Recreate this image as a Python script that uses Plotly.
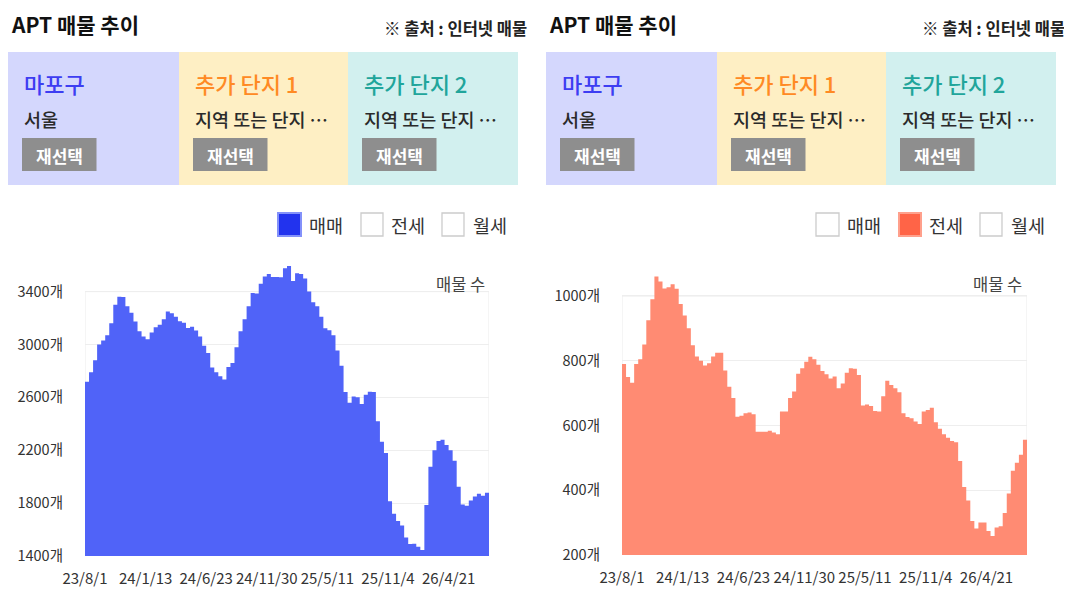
import plotly.graph_objects as go

# The page body adds an 8px margin, so the figure is 8px smaller on each
# axis and every pixel position below is shifted by that margin.
PAGE_W, PAGE_H = 1072, 597
MARGIN = 8
W, H = PAGE_W - MARGIN, PAGE_H - MARGIN


def px(x):
    return (x - MARGIN) / W


def py(y):
    return 1 - (y - MARGIN) / H


FONT = "Noto Sans CJK KR"

# ---------------- data ----------------
date_labels = ["23/8/1", "24/1/13", "24/6/23", "24/11/30", "25/5/11", "25/11/4", "26/4/21"]
tick_index = [0, 15, 30, 45, 60, 75, 90]

sale_counts = [
    2719, 2790, 2880, 3000, 3030, 3070, 3160, 3300, 3362, 3360,
    3290, 3240, 3173, 3100, 3060, 3040, 3090, 3130, 3150, 3190,
    3250, 3236, 3210, 3175, 3165, 3125, 3135, 3105, 3060, 2990,
    2935, 2825, 2790, 2760, 2735, 2830, 2860, 2980, 3100, 3190,
    3290, 3390, 3385, 3460, 3515, 3533, 3510, 3510, 3508, 3577,
    3594, 3480, 3539, 3533, 3500, 3400, 3320, 3290, 3210, 3123,
    3108, 3070, 2955, 2840, 2640, 2560, 2606, 2600, 2550, 2620,
    2643, 2640, 2420, 2265, 2180, 1815, 1720, 1665, 1630, 1540,
    1490, 1492, 1470, 1445, 1786, 2076, 2200, 2270, 2280, 2240,
    2200, 2120, 1924, 1790, 1780, 1820, 1850, 1870, 1855, 1879,
    1899,
]

jeonse_counts = [
    790, 750, 732, 790, 805, 850, 925, 990, 1060, 1045,
    1023, 1027, 1036, 1022, 975, 940, 900, 848, 813, 800,
    785, 792, 813, 825, 825, 770, 720, 685, 627, 630,
    638, 640, 635, 581, 581, 581, 584, 578, 573, 643,
    643, 685, 705, 760, 777, 797, 812, 805, 788, 768,
    758, 745, 751, 715, 730, 763, 777, 775, 756, 662,
    665, 660, 645, 643, 690, 738, 725, 715, 703, 638,
    626, 622, 612, 605, 643, 648, 655, 610, 590, 573,
    562, 552, 548, 490, 410, 368, 305, 282, 300, 300,
    274, 259, 285, 289, 330, 390, 460, 485, 510, 556,
    584,
]

sale_ticks = [1400, 1800, 2200, 2600, 3000, 3400]
jeonse_ticks = [200, 400, 600, 800, 1000]

region_titles = ["마포구", "추가 단지 1", "추가 단지 2"]
region_subs = ["서울", "지역 또는 단지 …", "지역 또는 단지 …"]
legend_labels = ["매매", "전세", "월세"]

# ---------------- styles ----------------
SALE_COLOR = "#5063F8"
JEONSE_COLOR = "#FF8B73"
BOX_COLORS = ["#D4D7FD", "#FEEFC4", "#D2F0EF"]
TITLE_COLORS = ["#3D3DF2", "#FF8A24", "#21A59B"]
BOX_X = [(8, 179), (179, 348), (348, 518)]
CHECK_X = [(278, 301), (361, 383), (442, 464)]
LABEL_X = [307, 389, 471]
CHECK_FILL = [("#2233EE", "#8391FA"), ("#FF6447", "#FFA08C")]

fig = go.Figure()

n = len(sale_counts)
fig.add_trace(go.Scatter(
    x=list(range(n)), y=sale_counts, mode="lines",
    line=dict(shape="hv", width=0, color=SALE_COLOR),
    fill="tozeroy", fillcolor=SALE_COLOR,
    xaxis="x", yaxis="y", hoverinfo="skip", showlegend=False,
))
m = len(jeonse_counts)
fig.add_trace(go.Scatter(
    x=list(range(m)), y=jeonse_counts, mode="lines",
    line=dict(shape="hv", width=0, color=JEONSE_COLOR),
    fill="tozeroy", fillcolor=JEONSE_COLOR,
    xaxis="x2", yaxis="y2", hoverinfo="skip", showlegend=False,
))

xtickfont = dict(family=FONT, size=15, color="#333333")
ytickfont = dict(family=FONT, size=14.5, color="#333333")

xcommon = dict(range=[0, n - 1], tickvals=tick_index, ticktext=date_labels,
               showgrid=False, zeroline=False, showline=False, ticks="",
               tickfont=xtickfont, ticklabelstandoff=12, fixedrange=True,
               automargin=False)
ycommon = dict(showgrid=True, gridcolor="#EEEEEE", gridwidth=1, zeroline=False,
               showline=False, ticks="", tickfont=ytickfont,
               ticklabelstandoff=21, fixedrange=True, automargin=False)

fig.update_layout(
    template="none",
    width=W, height=H, autosize=False,
    margin=dict(l=0, r=0, t=0, b=0, pad=0, autoexpand=False),
    paper_bgcolor="white", plot_bgcolor="white",
    font=dict(family=FONT, color="#333333"),
    showlegend=False,
    xaxis=dict(domain=[px(85), px(489)], anchor="y", **xcommon),
    yaxis=dict(domain=[py(556), py(262)], anchor="x", range=[1400, 3624],
               tickvals=sale_ticks, ticktext=[f"{v}개" for v in sale_ticks], **ycommon),
    xaxis2=dict(domain=[px(622), px(1027)], anchor="y2", **xcommon),
    yaxis2=dict(domain=[py(555), py(262)], anchor="x2", range=[200, 1105],
                tickvals=jeonse_ticks, ticktext=[f"{v}개" for v in jeonse_ticks], **ycommon),
)

shapes = []
annotations = []

# plot frames (vertical edges)
shapes.append(dict(type="rect", xref="x", yref="y", x0=0, x1=n - 1,
                   y0=sale_ticks[0], y1=sale_ticks[-1],
                   line=dict(color="#EBEBEB", width=1), layer="below"))
shapes.append(dict(type="rect", xref="x2", yref="y2", x0=0, x1=m - 1,
                   y0=jeonse_ticks[0], y1=jeonse_ticks[-1],
                   line=dict(color="#EBEBEB", width=1), layer="below"))

for p, off in enumerate([0, 538]):
    # title + source
    annotations.append(dict(xref="paper", yref="paper", x=px(9 + off), y=py(24),
                            xanchor="left", yanchor="middle", showarrow=False,
                            text="<b>APT 매물 추이</b>",
                            font=dict(family=FONT, size=21, color="#111111")))
    annotations.append(dict(xref="paper", yref="paper", x=px(529 + off), y=py(28),
                            xanchor="right", yanchor="middle", showarrow=False,
                            text="<b>※ 출처 : 인터넷 매물</b>",
                            font=dict(family=FONT, size=16.5, color="#222222")))
    # region boxes
    for k in range(3):
        x0, x1 = BOX_X[k]
        shapes.append(dict(type="rect", xref="paper", yref="paper",
                           x0=px(x0 + off), x1=px(x1 + off), y0=py(185), y1=py(52),
                           fillcolor=BOX_COLORS[k], line=dict(width=0), layer="below"))
        annotations.append(dict(xref="paper", yref="paper", x=px(x0 + 14 + off), y=py(83),
                                xanchor="left", yanchor="middle", showarrow=False,
                                text=region_titles[k],
                                font=dict(family=FONT, size=22, color=TITLE_COLORS[k], weight=500)))
        annotations.append(dict(xref="paper", yref="paper", x=px(x0 + 14 + off), y=py(119),
                                xanchor="left", yanchor="middle", showarrow=False,
                                text=region_subs[k],
                                font=dict(family=FONT, size=18.5, color="#2A2A2A", weight=500)))
        shapes.append(dict(type="rect", xref="paper", yref="paper",
                           x0=px(x0 + 14 + off), x1=px(x0 + 88.5 + off), y0=py(171), y1=py(138),
                           fillcolor="#8E8E8E", line=dict(width=0)))
        annotations.append(dict(xref="paper", yref="paper", x=px(x0 + 51 + off), y=py(155),
                                xanchor="center", yanchor="middle", showarrow=False,
                                text="<b>재선택</b>",
                                font=dict(family=FONT, size=17, color="white")))
    # legend checkboxes
    for k in range(3):
        cx0, cx1 = CHECK_X[k]
        if k == p:
            fill, edge = CHECK_FILL[p]
            shapes.append(dict(type="rect", xref="paper", yref="paper",
                               x0=px(cx0 + off), x1=px(cx1 + off), y0=py(236), y1=py(213),
                               fillcolor=fill, line=dict(color=edge, width=2)))
        else:
            shapes.append(dict(type="rect", xref="paper", yref="paper",
                               x0=px(cx0 + off), x1=px(cx1 + off), y0=py(236), y1=py(213),
                               fillcolor="white", line=dict(color="#CCCCCC", width=1.3)))
        annotations.append(dict(xref="paper", yref="paper", x=px(LABEL_X[k] + off), y=py(225),
                                xanchor="left", yanchor="middle", showarrow=False,
                                text=legend_labels[k],
                                font=dict(family=FONT, size=18.5, color="#333333")))
    # axis caption
    annotations.append(dict(xref="paper", yref="paper", x=px(487 + off - (1 if p else 0)), y=py(284),
                            xanchor="right", yanchor="middle", showarrow=False,
                            text="매물 수",
                            font=dict(family=FONT, size=16.5, color="#444444")))

fig.update_layout(shapes=shapes, annotations=annotations)

fig.write_html("out.html")
